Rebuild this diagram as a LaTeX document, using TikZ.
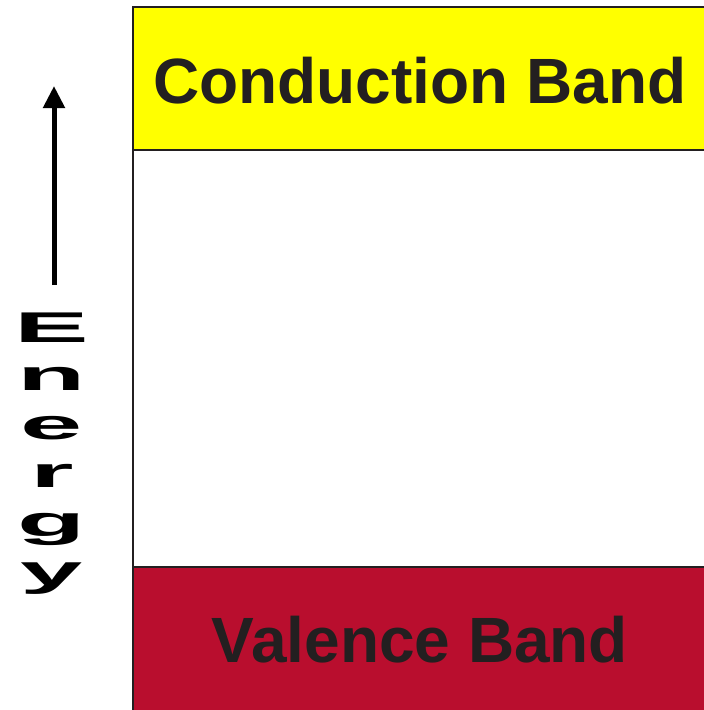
\documentclass[tikz,border=0pt]{standalone}
\usepackage{fontspec}
\setmainfont{Liberation Sans}
\usepackage{tikz}
\usetikzlibrary{arrows.meta}

\definecolor{bandyellow}{RGB}{255,255,0}
\definecolor{bandred}{RGB}{185,14,46}
\definecolor{inkgray}{RGB}{35,31,32}

\begin{document}
\begin{tikzpicture}[x=1pt, y=-1pt,
    band/.style={draw=inkgray, line width=2.5pt},
    bandlabel/.style={anchor=base, text=inkgray, font=\fontsize{64}{64}\selectfont\bfseries},
    letter/.style={anchor=base, inner sep=0pt, font=\fontsize{43}{43}\selectfont\bfseries}]
    % Fix the page size
    \useasboundingbox (0,0) rectangle (704,710);
    \clip (0,0) rectangle (704,710);
    
    % Draw the bands and the gap between them
    \draw[band, fill=white] (133,7) rectangle (720,720);
    \draw[band, fill=bandyellow] (133,7) rectangle (720,150);
    \draw[band, fill=bandred] (133,567) rectangle (720,720);
    
    % Band labels
    \node[bandlabel] (cond) at (420,103) {Conduction Band};
    \node[bandlabel] (val) at (420,662) {Valence Band};
    
    % Energy axis
    \coordinate (arrowtail) at (54,285);
    \coordinate (arrowtip) at (54,86);
    \draw[line width=5pt, -{Triangle[width=21pt, length=22pt]}] (arrowtail) -- (arrowtip);
    \foreach \ch [count=\i] in {E,n,e,r,g,y}
        \node[letter] (energy\i) at (52,342+48.6*\i-48.6) {\scalebox{2.6}[1]{\ch}};
\end{tikzpicture}
\end{document}
